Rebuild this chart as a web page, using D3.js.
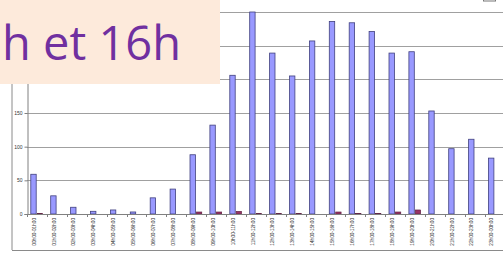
<!DOCTYPE html>
<html><head><meta charset="utf-8">
<script src="https://cdn.jsdelivr.net/npm/d3@7"></script>
<style>html,body{margin:0;padding:0;background:#fff;overflow:hidden}</style>
</head><body>
<svg id="c" width="503" height="256"></svg>
<script>
const categories = ["00h00-01h00","01h00-02h00","02h00-03h00","03h00-04h00","04h00-05h00","05h00-06h00","06h00-07h00","07h00-08h00","08h00-09h00","09h00-10h00","10h00-11h00","11h00-12h00","12h00-13h00","13h00-14h00","14h00-15h00","15h00-16h00","16h00-17h00","17h00-18h00","18h00-19h00","19h00-20h00","20h00-21h00","21h00-22h00","22h00-23h00","23h00-00h00"];
const seriesA = [59,27,10,4,6,3,24,37,88,132,206,300,239,205,257,286,284,271,239,241,153,97,111,83];
const seriesB = [1,0,0,0,0,0,0,0,3,3,4,1,1,1,0,3,1,1,3,6,0,0,0,0];
const yTicks = [0,50,100,150,200,250,300];
const yLabelled = [0,50,100,150];
const titleText = "entre 11h et 16h";

const svg = d3.select("#c");
const x = d3.scaleBand().domain(categories).range([27, 27 + 24*19.9]);
const y = d3.scaleLinear().domain([0,300]).range([214,12]);
const bw = 6.4, off = 3.3;

svg.append("line").attr("x1",12).attr("x2",12).attr("y1",0).attr("y2",250).attr("stroke","#8a8a8a");
svg.append("line").attr("x1",12).attr("x2",503).attr("y1",250.5).attr("y2",250.5).attr("stroke","#8a8a8a");
svg.append("rect").attr("x",483.5).attr("y",-3).attr("width",12).attr("height",4).attr("fill","#fff").attr("stroke","#777");

svg.append("g").selectAll("line").data(yTicks.filter(d=>d>0)).join("line")
  .attr("x1",27).attr("x2",503).attr("y1",d=>Math.round(y(d))+0.5).attr("y2",d=>Math.round(y(d))+0.5)
  .attr("stroke","#a0a0a0");

svg.append("g").selectAll("rect").data(seriesA).join("rect")
  .attr("x",(d,i)=>x(categories[i])+off+0.5).attr("width",bw-1)
  .attr("y",d=>y(d)).attr("height",d=>y(0)-y(d))
  .attr("fill","#9999ff").attr("stroke","#40407f").attr("stroke-width",0.8);
svg.append("g").selectAll("rect").data(seriesB).join("rect")
  .attr("x",(d,i)=>x(categories[i])+off+bw+0.5).attr("width",bw-1)
  .attr("y",d=>y(d)).attr("height",d=>y(0)-y(d))
  .attr("fill","#993366").attr("stroke","#5a2040").attr("stroke-width",d=>d>0?0.6:0);

const yAxis = d3.axisLeft(y).tickValues(yTicks).tickSize(3).tickPadding(2)
  .tickFormat(d=>yLabelled.includes(d)?d:"");
const gy = svg.append("g").attr("transform","translate(27.5,0)").call(yAxis);
gy.select(".domain").attr("stroke","#808080");
gy.selectAll(".tick line").attr("stroke","#808080");
gy.selectAll("text").attr("font-family","Liberation Sans, Arial").attr("font-size","5px").attr("fill","#333");
gy.selectAll(".tick").filter(d=>!yLabelled.includes(d)).select("text").remove();

svg.append("line").attr("x1",27).attr("x2",503).attr("y1",214.5).attr("y2",214.5).attr("stroke","#808080");
svg.append("g").selectAll("line").data(categories).join("line")
  .attr("x1",d=>Math.round(x(d))+0.5).attr("x2",d=>Math.round(x(d))+0.5)
  .attr("y1",214).attr("y2",217).attr("stroke","#808080");
svg.append("g").selectAll("text").data(categories).join("text")
  .attr("transform",d=>`translate(${x(d)+x.bandwidth()/2-3},218) rotate(-90)`)
  .attr("text-anchor","end").attr("dy","0.35em")
  .attr("font-family","Liberation Sans, Arial").attr("font-size","4.7px").attr("fill","#333")
  .text(d=>d);

svg.append("rect").attr("x",0).attr("y",0).attr("width",220).attr("height",84).attr("fill","#fdeadb");
svg.append("text").attr("x",181).attr("y",60).attr("text-anchor","end")
  .attr("font-family","Open Sans").attr("font-size","47px").attr("fill","#7030a0")
  .text(titleText);
</script>
</body></html>
